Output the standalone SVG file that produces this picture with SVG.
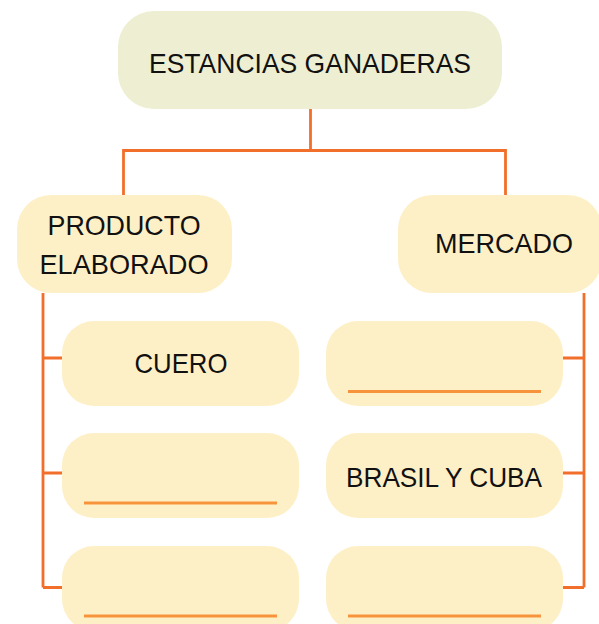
<svg xmlns="http://www.w3.org/2000/svg" width="599" height="624" viewBox="0 0 599 624">
<style>
.root{fill:#EEEFD2}
.box{fill:#FEF0C6}
.lbl{font-family:"Liberation Sans",Arial,sans-serif;font-size:28.5px;fill:#111;text-anchor:middle}
.con{fill:none;stroke:#F26F2B;stroke-width:2.8}
.ul{stroke:#F7933B;stroke-width:2.8}
</style>
<rect width="599" height="624" fill="#fff"/>
<g id="connectors">
<path class="con" d="M310.5 109V150.5M123.5 196V150.5H505.5V196"/>
<path class="con" d="M43 293V587.5M43 358H62M43 473H62M43 587.5H62"/>
<path class="con" d="M584 293V587.5M584 358H563M584 473H563M584 587.5H563"/>
</g>
<g id="n-estancias">
<rect class="root" x="118" y="11" width="384" height="98" rx="36"/>
<text class="lbl" x="310" y="73" font-size="31.5" textLength="322" lengthAdjust="spacingAndGlyphs">ESTANCIAS GANADERAS</text>
</g>
<g id="n-producto">
<rect class="box" x="17" y="195" width="215" height="98" rx="34"/>
<text class="lbl" x="124" y="235" textLength="153" lengthAdjust="spacingAndGlyphs">PRODUCTO</text>
<text class="lbl" x="124" y="274" textLength="169" lengthAdjust="spacingAndGlyphs">ELABORADO</text>
</g>
<g id="n-mercado">
<rect class="box" x="398" y="195" width="204" height="98" rx="34"/>
<text class="lbl" x="504" y="253" textLength="138" lengthAdjust="spacingAndGlyphs">MERCADO</text>
</g>
<g id="n-cuero">
<rect class="box" x="62" y="321" width="237" height="85" rx="32"/>
<text class="lbl" x="181" y="373" textLength="93" lengthAdjust="spacingAndGlyphs">CUERO</text>
</g>
<g id="n-left2">
<rect class="box" x="62" y="433" width="237" height="85" rx="32"/>
<line class="ul" x1="84" y1="503" x2="277" y2="503"/>
</g>
<g id="n-left3">
<rect class="box" x="62" y="546" width="237" height="85" rx="32"/>
<line class="ul" x1="84" y1="616" x2="277" y2="616"/>
</g>
<g id="n-right1">
<rect class="box" x="326" y="321" width="237" height="85" rx="32"/>
<line class="ul" x1="348" y1="391.5" x2="541" y2="391.5"/>
</g>
<g id="n-brasil">
<rect class="box" x="326" y="433" width="237" height="85" rx="32"/>
<text class="lbl" x="444" y="487" textLength="196" lengthAdjust="spacingAndGlyphs">BRASIL Y CUBA</text>
</g>
<g id="n-right3">
<rect class="box" x="326" y="546" width="237" height="85" rx="32"/>
<line class="ul" x1="348" y1="616" x2="541" y2="616"/>
</g>
</svg>
